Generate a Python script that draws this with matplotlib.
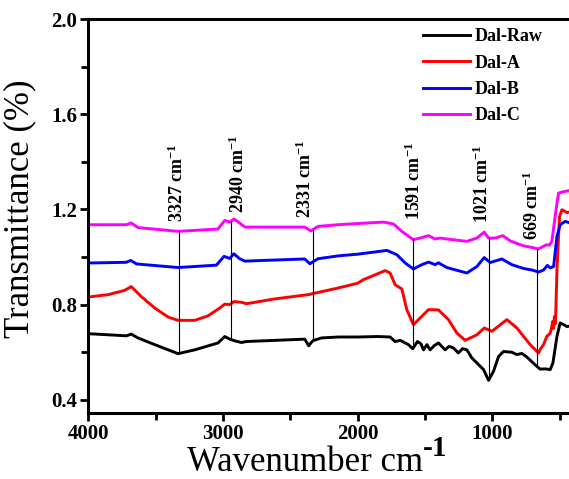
import numpy as np
import matplotlib.pyplot as plt
from matplotlib.ticker import MultipleLocator

plt.rcParams['font.family'] = 'Liberation Serif'
plt.rcParams['font.weight'] = 'bold'
plt.rcParams['mathtext.fontset'] = 'custom'
plt.rcParams['mathtext.rm'] = 'Liberation Serif:bold'
plt.rcParams['mathtext.it'] = 'Liberation Serif:bold'
plt.rcParams['mathtext.bf'] = 'Liberation Serif:bold'

# espectros FTIR (numero de onda, transmitancia)
raw_wn = [4000, 3717, 3680, 3630, 3506, 3333, 3209, 3036, 2986, 2949, 2912, 2862, 2825,
          2392, 2362, 2345, 2330, 2268, 2144, 2000, 1850, 1758, 1721, 1683, 1622, 1590,
          1555, 1530, 1510, 1485, 1461, 1430, 1399, 1370, 1350, 1320, 1288, 1251, 1220,
          1188, 1151, 1114, 1064, 1027, 990, 953, 916, 854, 817, 780, 743, 681, 644, 606,
          569, 549, 519, 495, 470, 445, 420]
raw_t = [0.678, 0.669, 0.676, 0.660, 0.632, 0.594, 0.610, 0.639, 0.666, 0.655, 0.648, 0.641,
         0.645, 0.655, 0.627, 0.640, 0.649, 0.660, 0.664, 0.664, 0.666, 0.664, 0.645, 0.650,
         0.632, 0.615, 0.645, 0.636, 0.610, 0.632, 0.610, 0.628, 0.639, 0.622, 0.610, 0.625,
         0.618, 0.597, 0.615, 0.610, 0.576, 0.555, 0.527, 0.482, 0.520, 0.582, 0.603, 0.600,
         0.590, 0.595, 0.580, 0.547, 0.529, 0.530, 0.527, 0.555, 0.667, 0.723, 0.716, 0.708,
         0.710]

a_wn = [4000, 3853, 3729, 3680, 3606, 3506, 3407, 3333, 3209, 3110, 3023, 2986, 2949, 2917,
        2862, 2825, 2615, 2367, 2144, 2000, 1956, 1795, 1758, 1721, 1671, 1634, 1585, 1535,
        1473, 1399, 1325, 1263, 1201, 1114, 1059, 1002, 891, 817, 718, 656, 640, 619, 594,
        569, 560, 551, 545, 538, 530, 519, 500, 482, 445, 420]
a_t = [0.832, 0.842, 0.860, 0.876, 0.834, 0.786, 0.748, 0.734, 0.734, 0.753, 0.786, 0.802,
       0.800, 0.813, 0.810, 0.804, 0.824, 0.842, 0.870, 0.890, 0.905, 0.943, 0.933, 0.884,
       0.866, 0.779, 0.716, 0.744, 0.779, 0.778, 0.737, 0.681, 0.650, 0.673, 0.702, 0.688,
       0.737, 0.702, 0.632, 0.597, 0.615, 0.632, 0.667, 0.680, 0.700, 0.729, 0.700, 0.750,
       0.720, 0.947, 1.170, 1.199, 1.187, 1.190]

b_wn = [4000, 3717, 3684, 3640, 3333, 3048, 2991, 2949, 2919, 2875, 2837, 2392, 2354, 2293,
        2144, 2000, 1782, 1708, 1646, 1585, 1522, 1473, 1424, 1399, 1337, 1188, 1114, 1059,
        1015, 928, 854, 767, 700, 656, 620, 606, 590, 570, 544, 519, 495, 458, 420]
b_t = [0.975, 0.978, 0.986, 0.971, 0.956, 0.966, 1.003, 0.994, 1.014, 0.993, 0.983, 0.992,
       0.972, 0.993, 1.005, 1.012, 1.028, 1.010, 0.975, 0.950, 0.968, 0.979, 0.968, 0.976,
       0.956, 0.933, 0.960, 0.998, 0.977, 0.992, 0.968, 0.952, 0.945, 0.937, 0.945, 0.954,
       0.965, 0.955, 0.960, 1.087, 1.136, 1.150, 1.143]

c_wn = [4000, 3717, 3680, 3630, 3333, 3036, 2986, 2949, 2917, 2875, 2837, 2392, 2347, 2293,
        2144, 2000, 1807, 1733, 1671, 1585, 1535, 1473, 1424, 1386, 1337, 1188, 1114, 1059,
        1027, 978, 921, 866, 767, 700, 656, 620, 594, 575, 557, 519, 507, 470, 420]
c_t = [1.136, 1.136, 1.143, 1.124, 1.108, 1.118, 1.154, 1.147, 1.160, 1.143, 1.126, 1.126,
       1.110, 1.129, 1.136, 1.141, 1.147, 1.139, 1.108, 1.073, 1.080, 1.090, 1.076, 1.080,
       1.076, 1.066, 1.080, 1.105, 1.080, 1.080, 1.090, 1.068, 1.047, 1.040, 1.034, 1.045,
       1.052, 1.050, 1.066, 1.227, 1.269, 1.275, 1.280]

series = [('Dal-Raw', raw_wn, raw_t, 'black'),
          ('Dal-A', a_wn, a_t, 'red'),
          ('Dal-B', b_wn, b_t, 'blue'),
          ('Dal-C', c_wn, c_t, 'magenta')]

# bandas marcadas
picos = [3327, 2940, 2331, 1591, 1021, 669]
etiqueta_x = [3335, 2885, 2385, 1580, 1070, 700]
etiqueta_y = [1.148, 1.186, 1.165, 1.157, 1.145, 1.073]

fig = plt.figure(figsize=(5.69, 4.79), dpi=100)
ax = fig.add_axes([0.155, 0.138, 0.852, 0.822])

for nombre, wn, t, color in series:
    ax.plot(wn, t, color=color, lw=2.1, label=nombre)

for p, lx, ly in zip(picos, etiqueta_x, etiqueta_y):
    y0 = np.interp(p, raw_wn[::-1], raw_t[::-1])
    y1 = np.interp(p, c_wn[::-1], c_t[::-1])
    ax.plot([p, p], [y0, y1], color='black', lw=0.8)
    ax.text(lx, ly, f'{p} cm$^{{-1}}$', rotation=90, ha='center', va='bottom',
            fontsize=13)

ax.set_xlim(4000, 400)
ax.set_ylim(0.345, 2.0)
ax.xaxis.set_major_locator(MultipleLocator(1000))
ax.xaxis.set_minor_locator(MultipleLocator(500))
ax.set_yticks([0.4, 0.8, 1.2, 1.6, 2.0])
ax.yaxis.set_minor_locator(MultipleLocator(0.2))
ax.tick_params(which='both', direction='out', width=2, labelsize=15, pad=2)
ax.tick_params(which='major', length=6)
ax.tick_params(which='minor', length=5)
for s in ax.spines.values():
    s.set_linewidth(2.2)

xlab = ax.set_xlabel('Wavenumber cm', fontsize=25)
xlab.set_verticalalignment('baseline')
ax.xaxis.set_label_coords(0.447, -0.147)
ax.annotate('-1', xy=(1.0, 0.5), xycoords=xlab, fontsize=21,
            ha='left', va='bottom')
ax.set_ylabel('Transmittance (%)', fontsize=25)
ax.yaxis.set_label_coords(-0.108, 0.518)

ax.legend(loc='upper left', bbox_to_anchor=(0.691, 0.977), frameon=False, fontsize=13,
          handlelength=2.6, handletextpad=0.25, labelspacing=0.52, borderpad=0,
          borderaxespad=0)

plt.savefig('out.png', dpi=100)
